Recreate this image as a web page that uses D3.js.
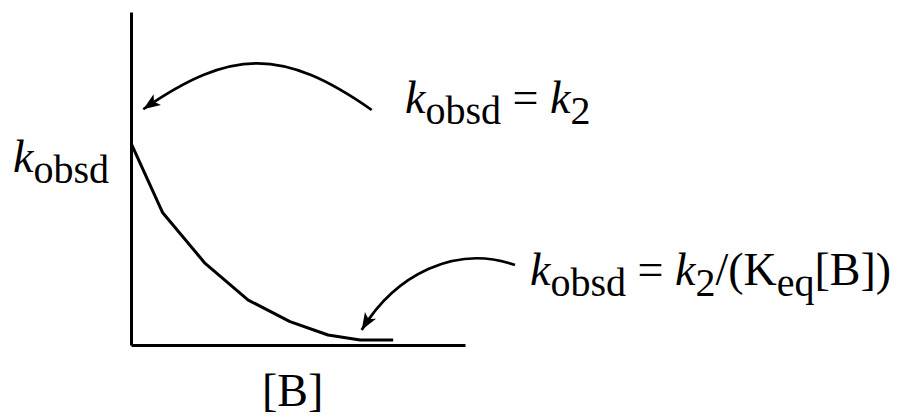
<!DOCTYPE html>
<html>
<head>
<meta charset="utf-8">
<script src="https://cdn.jsdelivr.net/npm/d3@7"></script>
<style>
  body { margin: 0; background: #fff; }
  text { font-family: "Liberation Serif", "Times New Roman", serif; fill: #000; }
</style>
</head>
<body>
<svg id="chart"></svg>
<script>
// curve sampled from the figure, [B] vs k_obsd (arbitrary units 0-100)
const concB = [0, 9.5, 22.2, 35.1, 47.6, 59, 68.6, 78.5];
const kObsd = [60.6, 39.7, 24.5, 13.5, 7.0, 3.0, 1.5, 1.5];

// annotation arrows in the same data units: start, control points, tip
const arrowTop = [[72.07, 70.57], [45.5, 89.2], [30.2, 89.2], [3.68, 70.8]];
const arrowBottom = [[114.97, 24.02], [97.0, 30.33], [79.04, 21.02], [69.07, 4.5]];

const width = 903, height = 417;
const margin = { top: 12, right: 438, bottom: 72, left: 131 };

const svg = d3.select('#chart')
    .attr('width', width)
    .attr('height', height);

const x = d3.scaleLinear().domain([0, 100]).range([margin.left, width - margin.right]);
const y = d3.scaleLinear().domain([0, 100]).range([height - margin.bottom, margin.top]);

// axes, no ticks
svg.append('g')
    .attr('transform', `translate(${margin.left},0)`)
    .call(d3.axisLeft(y).tickValues([]).tickSizeOuter(0))
    .select('.domain').attr('stroke-width', 3);

svg.append('g')
    .attr('transform', `translate(0,${y(0)})`)
    .call(d3.axisBottom(x).tickValues([]).tickSizeOuter(0))
    .select('.domain').attr('stroke-width', 3);

// the curve
const pts = concB.map((d, i) => [d, kObsd[i]]);
svg.append('path')
    .datum(pts)
    .attr('fill', 'none')
    .attr('stroke', '#000')
    .attr('stroke-width', 3)
    .attr('stroke-linejoin', 'round')
    .attr('d', d3.line().x(d => x(d[0])).y(d => y(d[1])));

// arrowhead marker
svg.append('defs').append('marker')
    .attr('id', 'head')
    .attr('viewBox', '-18 -7 19 14')
    .attr('refX', 0)
    .attr('refY', 0)
    .attr('markerUnits', 'userSpaceOnUse')
    .attr('markerWidth', 19)
    .attr('markerHeight', 14)
    .attr('orient', 'auto')
    .append('path')
    .attr('d', 'M0,0 L-17,-6.5 L-13,0 L-17,6.5 Z')
    .attr('fill', '#000');

const bez = a => {
    const p = a.map(d => [x(d[0]), y(d[1])]);
    return `M${p[0]}C${p[1]} ${p[2]} ${p[3]}`;
};

[arrowTop, arrowBottom].forEach(a => {
    svg.append('path')
        .attr('d', bez(a))
        .attr('fill', 'none')
        .attr('stroke', '#000')
        .attr('stroke-width', 2.7)
        .attr('marker-end', 'url(#head)');
});

// labels
const big = 46, small = 40, shift = 11;

function formula(xp, yp, parts) {
    const t = svg.append('text').attr('x', xp).attr('y', yp).attr('font-size', big);
    let cur = 0;
    parts.forEach(p => {
        const off = p.sub ? shift : 0;
        t.append('tspan')
            .attr('dy', off - cur)
            .attr('font-size', p.sub ? small : big)
            .attr('font-style', p.it ? 'italic' : 'normal')
            .text(p.s);
        cur = off;
    });
}

formula(13, 172, [{ s: 'k', it: true }, { s: 'obsd', sub: true }]);
formula(405, 113, [{ s: 'k', it: true }, { s: 'obsd', sub: true }, { s: '\u00a0=\u00a0' }, { s: 'k', it: true }, { s: '2', sub: true }]);
formula(530, 285, [{ s: 'k', it: true }, { s: 'obsd', sub: true }, { s: '\u00a0=\u00a0' }, { s: 'k', it: true }, { s: '2', sub: true }, { s: '/(K' }, { s: 'eq', sub: true }, { s: '[B])' }]);

svg.append('text')
    .attr('x', 262)
    .attr('y', 406)
    .attr('font-size', big)
    .text('[B]');
</script>
</body>
</html>
